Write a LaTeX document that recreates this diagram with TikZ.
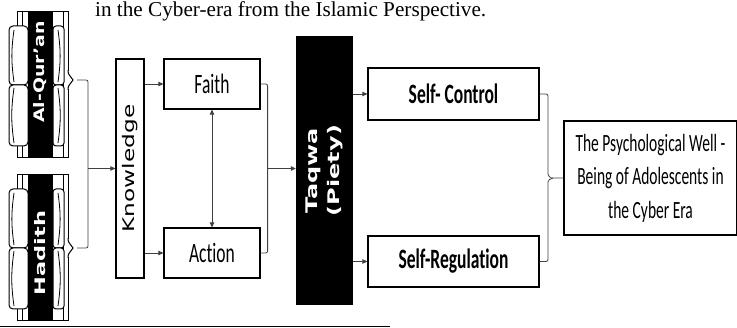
\documentclass[tikz,border=0pt]{standalone}
\usepackage{fontspec}
\usepackage{graphicx}
\setmainfont{Liberation Serif}
\newfontfamily\carlito[Ligatures=NoCommon]{Carlito}
\newfontfamily\dejavu{DejaVu Sans}
\usetikzlibrary{arrows.meta,positioning,calc}
\newcommand{\vst}[1]{\scalebox{1}[1.6]{#1}}
\newcommand{\hst}[2]{\scalebox{#1}[1]{#2}}
\tikzset{
  pbox/.style={rectangle, draw=black, line width=1.2pt, fill=white, inner sep=0pt,
               font=\carlito\fontsize{17.5}{21}\selectfont},
  pboxb/.style={pbox, font=\carlito\bfseries\fontsize{17.5}{21}\selectfont},
  kbox/.style={pbox, rotate=90, minimum width=219pt, minimum height=28pt,
               font=\dejavu\fontsize{16}{19}\selectfont},
  tbox/.style={rectangle, rotate=90, fill=black, text=white, inner sep=0pt,
               minimum width=269pt, minimum height=57pt,
               font=\dejavu\bfseries\fontsize{16}{22}\selectfont},
  wbox/.style={pbox, minimum width=173pt, minimum height=114pt,
               font=\carlito\fontsize{15.5}{21}\selectfont},
  book/.style={draw=black, line width=1pt, fill=white},
  spine/.style={rotate=90, text=white, inner sep=0pt,
                font=\dejavu\bfseries\fontsize{14.5}{17}\selectfont},
  link/.style={line width=0.8pt, black!75, rounded corners=2pt},
  arr/.style={link, -{Triangle[length=5pt,width=4.5pt]}},
  darr/.style={link, {Triangle[length=5pt,width=4.5pt]}-{Triangle[length=5pt,width=4.5pt]}},
}

\begin{document}
\begin{tikzpicture}[x=1pt, y=-1pt]
  \useasboundingbox (0,0) rectangle (737,328);
  % last line of the caption, at the top edge
  \node[anchor=base west, inner sep=0pt, font=\fontsize{21.2}{24}\selectfont] (head) at (95,16.5)
    {in the Cyber-era from the Islamic Perspective.};
  % the two sources, drawn as books
  \foreach \nm/\t/\txt/\ty/\st/\tp in {quran/12/{Al-Qur’an}/60/1.3/68, hadith/175/Hadith/78/1.55/73} {
    \begin{scope}[shift={(0,\t)}]
      \draw[book] (17,0) rectangle (68,146);
      \draw[book] (22,0) -- (22,146) (63,0) -- (63,146);
      \draw[book, rounded corners=4pt] (9,14) rectangle (28,73);
      \draw[book, rounded corners=4pt] (9,73) rectangle (28,134);
      \draw[book, rounded corners=3pt] (53,14) rectangle (64,73);
      \draw[book, rounded corners=3pt] (53,73) rectangle (64,134);
      \draw[line width=0.8pt] (14,18) to[bend right=8] (14,70) (14,76) to[bend right=8] (14,131);
      \draw[line width=0.8pt] (58,18) to[bend left=8] (58,70) (58,76) to[bend left=8] (58,131);
      \fill[black] (28,0) rectangle (53,146);
      \node[spine] (\nm) at (40.5,\ty) {\hst{\st}{\txt}};
      \fill[white] (67.4,\tp-9) rectangle (68.6,\tp+9);
      \draw[line width=1pt] (68,\tp-10) .. controls (68,\tp-3) and (72,\tp-4) .. (73,\tp)
        .. controls (72,\tp+4) and (68,\tp+3) .. (68,\tp+10);
      \coordinate (\nm-tip) at (77,\tp);
    \end{scope}
  }
  % boxes
  \node[kbox] (know) at (130,168.5) {\hst{1.45}{Knowledge}};
  \node[pbox, minimum width=96pt, minimum height=50pt] (faith) at (212,84) {\vst{Faith}};
  \node[pbox, minimum width=96pt, minimum height=50pt] (action) at (212,253) {\vst{Action}};
  \node[tbox] (taqwa) at (324.5,170.5)
    {\hst{1.5}{\begin{tabular}{@{}c@{}}Taqwa\\(Piety)\end{tabular}}};
  \node[pboxb, minimum width=171pt, minimum height=52pt] (selfc) at (453.5,94) {\vst{Self- Control}};
  \node[pboxb, minimum width=171pt, minimum height=51pt] (selfr) at (453.5,261.5) {\vst{Self-Regulation}};
  \node[wbox] (well) at (650.5,178)
    {\vst{\begin{tabular}{@{}c@{}}The Psychological Well -\\Being of Adolescents in\\the Cyber Era\end{tabular}}};
  % connectors
  \coordinate (src) at (88,168.5);
  \draw[link] (quran-tip) -| (src) |- (hadith-tip);
  \draw[arr] (src) -- (know);
  \draw[arr] (faith -| know.south) -- (faith.west);
  \draw[arr] (action -| know.south) -- (action.west);
  \draw[darr] (faith) -- (action);
  \draw[link] (faith.east) -- ++(7,0) |- (action.east);
  \coordinate (fa) at (267,168.5);
  \draw[arr] (fa) -- (fa -| taqwa.north);
  \draw[arr] (selfc -| taqwa.south) -- (selfc.west);
  \draw[arr] (selfr -| taqwa.south) -- (selfr.west);
  \coordinate (bx) at (548,178);
  \draw[link] (selfc.east) -| ([yshift=6pt]bx) to[out=-90,in=180] ([xshift=5pt]bx) -- (well.west);
  \draw[link] (selfr.east) -| ([yshift=-6pt]bx) to[out=90,in=180] ([xshift=5pt]bx);
  % footnote rule
  \draw[line width=0.9pt] (0,326.5) -- (390,326.5);
\end{tikzpicture}
\end{document}
